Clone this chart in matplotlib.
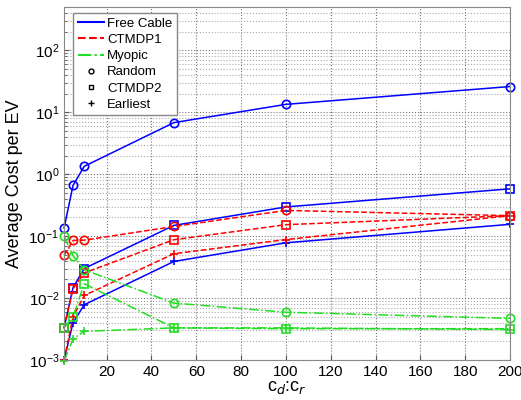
import matplotlib
matplotlib.use('Agg')
import matplotlib.pyplot as plt
from matplotlib.lines import Line2D

plt.rcParams['font.family'] = ['Liberation Sans', 'DejaVu Sans']

# cost ratio c_d:c_r
ratios = [1, 5, 10, 50, 100, 200]

# Free Cable
free_random = [0.135, 0.66, 1.34, 6.8, 13.4, 26.0]
free_ctmdp2 = [0.0033, 0.0148, 0.0300, 0.149, 0.296, 0.58]
free_earliest = [0.0010, 0.0040, 0.0078, 0.039, 0.078, 0.155]

# CTMDP1
ctmdp1_random = [0.049, 0.085, 0.086, 0.143, 0.26, 0.214]
ctmdp1_ctmdp2 = [0.0033, 0.0142, 0.0255, 0.0875, 0.153, 0.214]
ctmdp1_earliest = [0.0010, 0.0050, 0.0110, 0.052, 0.088, 0.214]

# Myopic
myopic_random = [0.100, 0.048, 0.0286, 0.0083, 0.0059, 0.0047]
myopic_ctmdp2 = [0.0033, 0.0050, 0.0170, 0.0033, 0.0032, 0.0032]
myopic_earliest = [0.00095, 0.0022, 0.0029, 0.0033, 0.0033, 0.0031]

blue = '#0000ff'
red = '#ff0000'
green = '#22dd22'

fig = plt.figure(figsize=(5.21, 4.0), dpi=100)
ax = fig.add_axes([0.123, 0.1, 0.856, 0.8825])

series = [
    (free_random, blue, '-', 'o'),
    (free_ctmdp2, blue, '-', 's'),
    (free_earliest, blue, '-', '+'),
    (ctmdp1_random, red, '--', 'o'),
    (ctmdp1_ctmdp2, red, '--', 's'),
    (ctmdp1_earliest, red, '--', '+'),
    (myopic_random, green, '-.', 'o'),
    (myopic_ctmdp2, green, '-.', 's'),
    (myopic_earliest, green, '-.', '+'),
]
for vals, col, ls, mk in series:
    ax.plot(ratios, vals, color=col, linestyle=ls, marker=mk, markersize=6,
            markerfacecolor='none', markeredgewidth=1.2, linewidth=1.1, clip_on=False)

ax.set_yscale('log')
ax.set_xlim(1, 200)
ax.set_ylim(1e-3, 5e2)
ax.set_xticks(range(20, 201, 20))
ax.set_yticks([1e-3, 1e-2, 1e-1, 1e0, 1e1, 1e2])
ax.grid(True, which='major', linestyle=':', color='#777777', linewidth=0.8)
ax.grid(True, which='minor', axis='y', linestyle=':', color='#aaaaaa', linewidth=0.8)
ax.tick_params(which='both', direction='in', labelsize=11, colors='#555555', labelcolor='black')
for s in ax.spines.values():
    s.set_color('#888888')

ax.set_xlabel(r'c$_d$:c$_r$', fontsize=13, labelpad=0)
ax.set_ylabel('Average Cost per EV', fontsize=13)

handles = [
    Line2D([], [], color=blue, linestyle='-', label='Free Cable'),
    Line2D([], [], color=red, linestyle='--', label='CTMDP1'),
    Line2D([], [], color=green, linestyle='-.', label='Myopic'),
    Line2D([], [], color='black', linestyle='none', marker='o', markersize=3.5,
           markerfacecolor='none', label='Random'),
    Line2D([], [], color='black', linestyle='none', marker='s', markersize=3.5,
           markerfacecolor='none', label='CTMDP2'),
    Line2D([], [], color='black', linestyle='none', marker='+', markersize=4.5,
           label='Earliest'),
]
leg = ax.legend(handles=handles, loc='upper left', bbox_to_anchor=(0.02, 0.983),
                fontsize=9.5, fancybox=False, edgecolor='#888888', framealpha=1,
                borderpad=0.35, labelspacing=0.3, handlelength=2.0,
                handletextpad=0.25, borderaxespad=0)
leg.get_frame().set_linewidth(1.0)
leg.set_zorder(5)

fig.savefig('out.png', dpi=100)
